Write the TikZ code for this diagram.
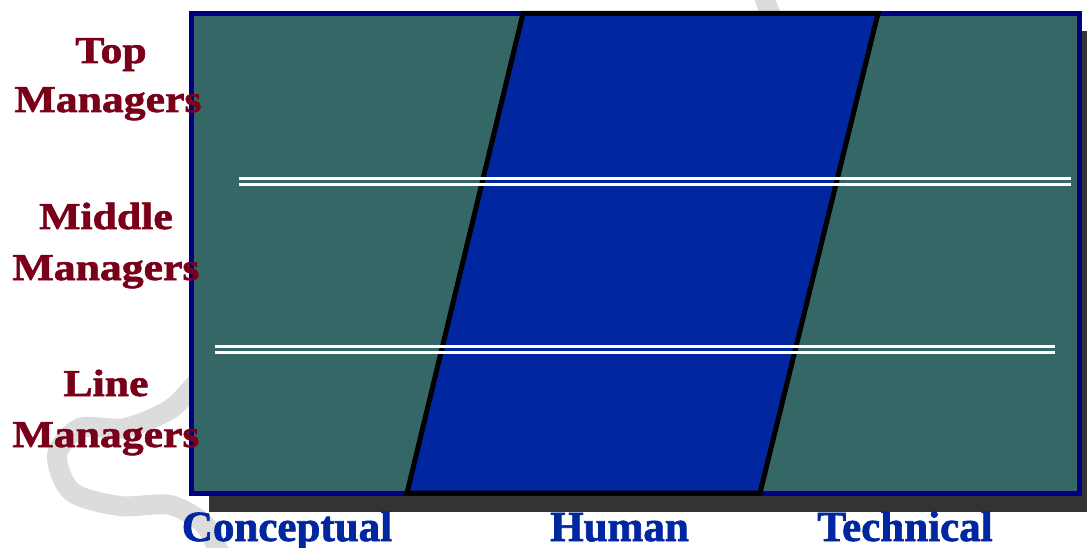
\documentclass[tikz,border=0pt]{standalone}
\usepackage{fontspec}
\setmainfont{Liberation Serif}[BoldFeatures={FakeBold=1.6}]
\newfontfamily\labfont{Liberation Serif}[FakeStretch=1.15,BoldFeatures={FakeBold=1.6}]
\definecolor{bgteal}{RGB}{53,103,103}
\definecolor{parablue}{RGB}{0,38,160}
\definecolor{bordernavy}{RGB}{0,0,128}
\definecolor{shadowgrey}{RGB}{51,51,51}
\definecolor{labred}{RGB}{122,0,25}
\definecolor{wmgrey}{RGB}{220,220,220}
\begin{document}
\begin{tikzpicture}[x=1pt,y=-1pt,
  wm/.style={draw=wmgrey,line width=20pt},
  shadowbox/.style={fill=shadowgrey},
  mainrect/.style={fill=bgteal,draw=bordernavy,line width=5pt},
  para/.style={fill=parablue,draw=black,line width=5pt,line join=miter},
  wline/.style={draw=white,line width=2.7pt},
  lab/.style={font=\labfont\bfseries\fontsize{38}{46}\selectfont,text=labred,anchor=base,inner sep=0pt},
  bot/.style={font=\bfseries\fontsize{43}{50}\selectfont,text=parablue,anchor=base,inner sep=0pt}]
\useasboundingbox (0,0) rectangle (1087,548);
% watermark
\draw[wm] plot[smooth] coordinates {(205,372) (172,408) (125,428) (80,428) (57,455) (72,492) (120,506) (170,505) (205,525) (222,560)};
\draw[wm] (763,-6) -- (771,16);
% shadow and main panel
\coordinate (stl) at (209,31);
\coordinate (sbr) at (1090,512);
\fill[shadowbox] (stl) rectangle (sbr);
\coordinate (tl) at (191,13.5);
\coordinate (br) at (1079,493);
\draw[mainrect] (tl) rectangle (br);
% human skills band
\coordinate (p1) at (523,13.5);
\coordinate (p2) at (878,13.5);
\coordinate (p3) at (760,493);
\coordinate (p4) at (407,493);
\draw[para] (p1) -- (p2) -- (p3) -- (p4) -- cycle;
% white double separators
\coordinate (a1) at (239,178.7); \coordinate (a2) at (1071,178.7);
\coordinate (b1) at (239,184.2); \coordinate (b2) at (1071,184.2);
\coordinate (c1) at (215,346.7); \coordinate (c2) at (1055,346.7);
\coordinate (d1) at (215,352.5); \coordinate (d2) at (1055,352.5);
\draw[wline] (a1) -- (a2);
\draw[wline] (b1) -- (b2);
\draw[wline] (c1) -- (c2);
\draw[wline] (d1) -- (d2);
% level labels
\node[lab] (top1) at (111,63) {Top};
\node[lab] (top2) at (108,112) {Managers};
\node[lab] (mid1) at (106,229) {Middle};
\node[lab] (mid2) at (106,280) {Managers};
\node[lab] (lin1) at (106,396) {Line};
\node[lab] (lin2) at (106,447) {Managers};
% skill labels
\node[bot] (concept) at (287,541) {Conceptual};
\node[bot] (human) at (619.5,541) {Human};
\node[bot] (tech) at (905,541) {Technical};
\end{tikzpicture}
\end{document}
